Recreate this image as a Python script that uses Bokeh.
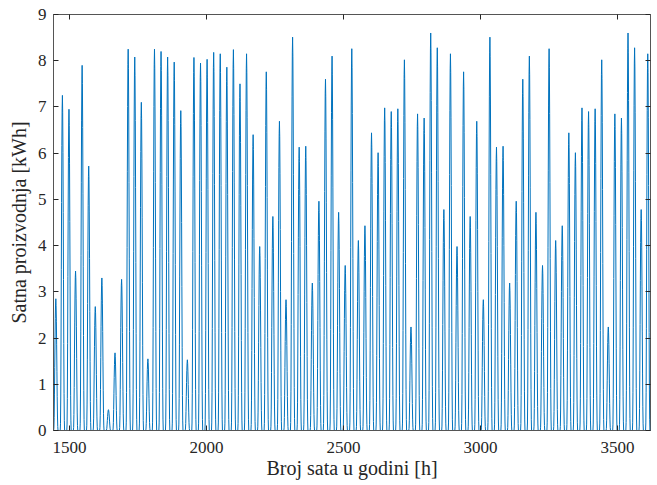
import numpy as np
from bokeh.plotting import figure
from bokeh.models import (ColumnDataSource, Range1d, LinearAxis, FixedTicker,
                          CustomJSTickFormatter)
from bokeh.embed import file_html
from bokeh.resources import INLINE

# ---- data ----
start_hour = 1441
# daily peak of hourly production [kWh], one value per day (hours 1441 ... 3624)
daily_peak_kwh = [
    2.85, 7.25, 6.95, 3.45, 7.90, 5.72, 2.68, 3.30, 0.45, 1.68,
    3.27, 8.25, 8.08, 7.10, 1.55, 8.25, 8.20, 8.08, 7.97, 6.92,
    1.53, 8.07, 7.95, 8.03, 8.18, 8.15, 7.86,
    8.24, 7.50, 8.15, 6.40, 3.98, 7.76, 4.63, 6.69, 2.83, 8.51, 6.13, 6.15,
    3.19, 4.96, 7.60, 8.10, 4.72, 3.57, 8.26, 4.11, 4.43, 6.44, 6.01, 6.98, 6.90, 6.96,
    8.02, 2.24, 6.85, 6.76, 8.60, 8.28, 4.78, 8.15,
    3.98, 7.76, 4.63, 6.69, 2.83, 8.51, 6.13, 6.15,
    3.19, 4.96, 7.60, 8.10, 4.72, 3.57, 8.26, 4.11, 4.43, 6.44, 6.01, 6.98, 6.90, 6.96,
    8.02, 2.24, 6.85, 6.76, 8.60, 8.28, 4.78, 8.15,
]
# typical shape of one day (fraction of the daily peak, 24 hours)
hourly_profile = [0.0, 0.0, 0.02, 0.10, 0.27, 0.48, 0.68, 0.85, 0.96, 1.0,
                  0.95, 0.83, 0.65, 0.45, 0.26, 0.11, 0.03, 0.0, 0.0, 0.0,
                  0.0, 0.0, 0.0, 0.0]
x_ticks = [1500, 2000, 2500, 3000, 3500]
y_ticks = [0, 1, 2, 3, 4, 5, 6, 7, 8, 9]

hours = start_hour + np.arange(len(daily_peak_kwh) * len(hourly_profile))
energy = (np.array(daily_peak_kwh)[:, None] * np.array(hourly_profile)[None, :]).ravel()
src = ColumnDataSource(data=dict(x=hours, y=energy))

AX = "#262626"
FONT = "Liberation Serif"

p = figure(width=657, height=485, output_backend="svg", toolbar_location=None,
           x_range=Range1d(1441.5, 3620), y_range=Range1d(0, 9),
           min_border_left=53, min_border_right=7, min_border_top=14,
           min_border_bottom=55, background_fill_color="white",
           border_fill_color="white")
p.outline_line_color = "#555555"
p.outline_line_width = 1
p.xgrid.grid_line_color = None
p.ygrid.grid_line_color = None

p.line("x", "y", source=src, line_color="#0072BD", line_width=1)

for ax in (p.xaxis[0], p.yaxis[0]):
    ax.major_tick_in = 5
    ax.major_tick_out = 0
    ax.minor_tick_line_color = None
    ax.major_tick_line_color = AX
    ax.axis_line_color = "#555555"
    ax.major_label_text_font = FONT
    ax.major_label_text_font_size = "17px"
    ax.major_label_text_color = AX
    ax.axis_label_text_font = FONT
    ax.axis_label_text_font_size = "20px"
    ax.axis_label_text_font_style = "normal"
    ax.axis_label_text_color = AX

p.xaxis[0].ticker = FixedTicker(ticks=x_ticks)
p.yaxis[0].ticker = FixedTicker(ticks=y_ticks)
p.xaxis[0].axis_label = "Broj sata u godini [h]"
p.yaxis[0].axis_label = "Satna proizvodnja [kWh]"
p.xaxis[0].major_label_standoff = 11
p.xaxis[0].axis_label_standoff = 1
p.yaxis[0].major_label_standoff = 7
p.yaxis[0].axis_label_standoff = 5

empty = CustomJSTickFormatter(code="return ''")
top = LinearAxis(ticker=FixedTicker(ticks=x_ticks), formatter=empty,
                 major_tick_in=5, major_tick_out=0, minor_tick_line_color=None,
                 major_tick_line_color=AX, axis_line_color=None,
                 major_label_standoff=0, major_label_text_font_size="1px")
right = LinearAxis(ticker=FixedTicker(ticks=y_ticks), formatter=empty,
                   major_tick_in=5, major_tick_out=0, minor_tick_line_color=None,
                   major_tick_line_color=AX, axis_line_color=None,
                   major_label_standoff=0, major_label_text_font_size="1px")
p.add_layout(top, "above")
p.add_layout(right, "right")

open("out.html", "w").write(file_html(p, INLINE))
